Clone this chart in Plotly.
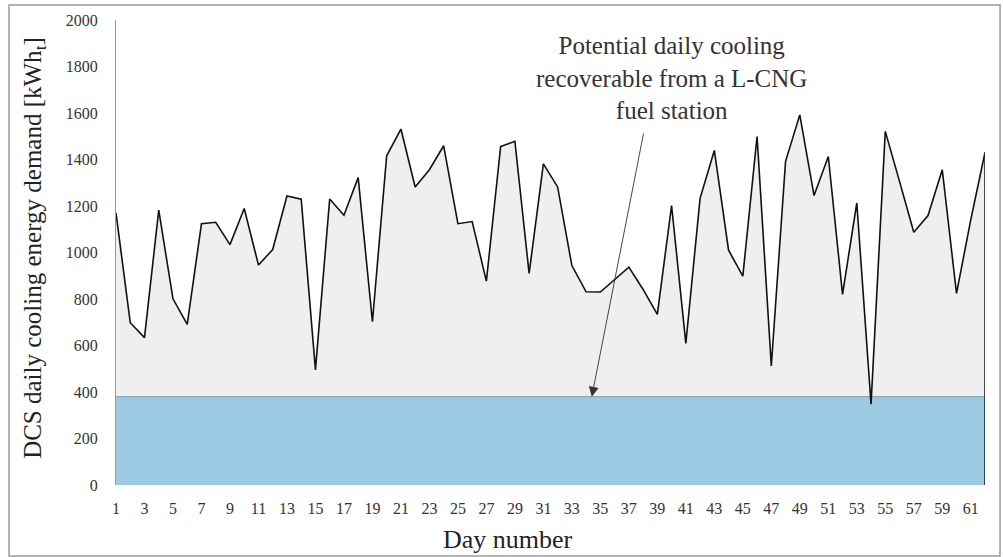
import plotly.graph_objects as go

days = list(range(1, 63))
demand = [1170, 698, 634, 1182, 801, 691, 1124, 1130, 1034, 1189,
          946, 1013, 1243, 1229, 495, 1230, 1160, 1322, 702, 1416,
          1531, 1282, 1356, 1459, 1124, 1133, 877, 1456, 1478, 910,
          1381, 1282, 944, 831, 830, 884, 937, 841, 734, 1202,
          609, 1233, 1439, 1010, 898, 1499, 512, 1392, 1592, 1245,
          1413, 820, 1213, 348, 1521, 1306, 1087, 1159, 1356, 824,
          1140, 1430]
recoverable = [380] * len(days)
tick_vals_x = list(range(1, 63, 2))
tick_vals_y = list(range(0, 2001, 200))

FONT = "Liberation Serif"

fig = go.Figure()
# gray area under demand
fig.add_trace(go.Scatter(x=days, y=demand, fill="tozeroy", fillcolor="#efefef",
                         mode="lines", line=dict(width=0, color="#efefef"),
                         hoverinfo="skip", showlegend=False))
# blue recoverable band
fig.add_trace(go.Scatter(x=days, y=recoverable, fill="tozeroy", fillcolor="#9ccae2",
                         mode="lines", line=dict(width=1.2, color="#8aaabb"),
                         showlegend=False))
# demand line on top
fig.add_trace(go.Scatter(x=days, y=demand, mode="lines",
                         line=dict(width=1.6, color="#111111"), showlegend=False))
# right edge of the area
fig.add_trace(go.Scatter(x=[days[-1], days[-1]], y=[0, demand[-1]], mode="lines",
                         line=dict(width=1.6, color="#222222"), showlegend=False))

fig.add_annotation(x=34.4, y=recoverable[0], ax=38.05, ay=1518, xref="x", yref="y",
                   axref="x", ayref="y", text="", showarrow=True, arrowhead=2,
                   arrowsize=2.2, arrowwidth=0.9, arrowcolor="#333333")
fig.add_annotation(x=40.0, y=1750, xref="x", yref="y", showarrow=False,
                   text="Potential daily cooling<br>recoverable from a L-CNG<br>fuel station",
                   font=dict(family=FONT, size=25, color="#333333"), align="center")

# axis titles
fig.add_annotation(x=0.451, y=-0.118, xref="paper", yref="paper", showarrow=False,
                   text="Day number", xanchor="center", yanchor="middle",
                   font=dict(family=FONT, size=26, color="#222222"))
fig.add_annotation(x=-0.0932, y=0.51, xref="paper", yref="paper", showarrow=False,
                   text="DCS daily cooling energy demand [kWh<sub>t</sub>]", textangle=-90,
                   xanchor="center", yanchor="middle",
                   font=dict(family=FONT, size=25, color="#222222"))

# outer frame
fig.add_shape(type="rect", xref="paper", yref="paper",
              x0=-0.1231, x1=1.0173, y0=-0.1527, y1=1.0323,
              line=dict(color="#9a9a9a", width=1.5))

fig.update_layout(
    width=1003, height=557,
    margin=dict(l=116, r=18, t=20, b=72),
    paper_bgcolor="white", plot_bgcolor="white",
    font=dict(family=FONT, color="#333333"),
    xaxis=dict(range=[1, 62], tickmode="array", tickvals=tick_vals_x,
               ticks="", showgrid=False, zeroline=False, showline=False,
               ticklabelstandoff=12,
               tickfont=dict(size=16, family=FONT, color="#333333")),
    yaxis=dict(range=[0, 2000], tickmode="array", tickvals=tick_vals_y,
               ticks="", showgrid=False, zeroline=False, showline=True,
               linecolor="#999999", linewidth=1, ticklabelstandoff=14,
               tickfont=dict(size=16, family=FONT, color="#333333")),
)

fig.write_html("out.html")
